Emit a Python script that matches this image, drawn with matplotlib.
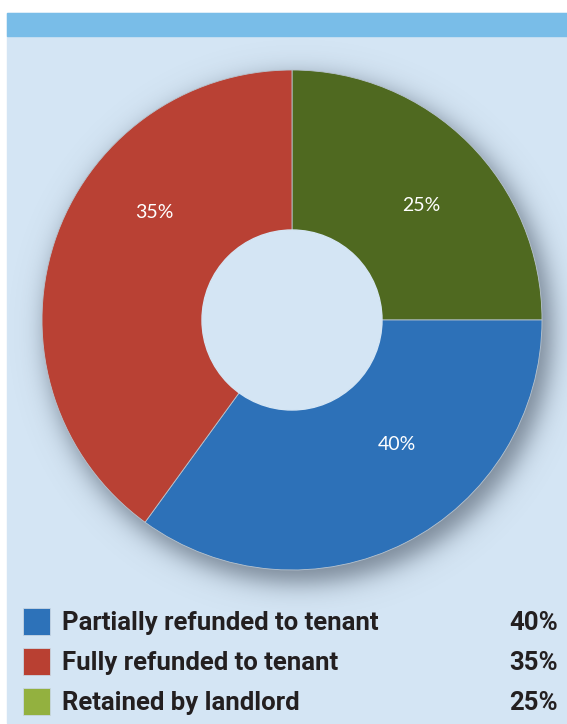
import numpy as np
import matplotlib
matplotlib.use('Agg')
import matplotlib.pyplot as plt
from matplotlib.patches import Rectangle, Circle

# data (wedge sizes as drawn, labels as printed)
categories = ['Partially refunded to tenant', 'Fully refunded to tenant', 'Retained by landlord']
printed_pct = ['40%', '35%', '25%']
drawn_share = [35, 40, 25]          # blue, red, green as they appear in the ring
pie_colors = ['#2d71b8', '#b94134', '#4f6920']
legend_colors = ['#2d72b9', '#b94032', '#93b13f']

W, H = 567, 724
PANEL = '#d4e5f4'
BAND = '#79bde8'
CX, CY, R = 292, 320, 250

fig = plt.figure(figsize=(W / 100, H / 100), dpi=100)
fig.patch.set_facecolor('white')

# background axes in pixel coords
bg = fig.add_axes([0, 0, 1, 1])
bg.set_xlim(0, W)
bg.set_ylim(H, 0)
bg.axis('off')
bg.add_patch(Rectangle((7, 13), W - 7, H - 14, color=PANEL, zorder=0))
bg.add_patch(Rectangle((7, 13), W - 7, 23, color=BAND, zorder=1))

# soft drop shadow behind the ring
yy, xx = np.mgrid[0:H, 0:W] + 0.5
dist = np.hypot(xx - (CX + 7), yy - (CY + 10))
alpha = 0.6 / (1 + np.exp((dist - (R + 3)) / 7.5))
shadow = np.zeros((H, W, 4))
shadow[..., 0] = 0.24
shadow[..., 1] = 0.29
shadow[..., 2] = 0.35
shadow[..., 3] = alpha
bg.imshow(shadow, extent=(0, W, H, 0), zorder=2, interpolation='bilinear')
bg.set_xlim(0, W)
bg.set_ylim(H, 0)

# pie axes, 1 data unit = R pixels
ax = fig.add_axes([(CX - R) / W, (H - CY - R) / H, 2 * R / W, 2 * R / H])
# green first, then blue, then red, clockwise from the top
order = [2, 0, 1]
ax.pie([drawn_share[i] for i in order], colors=[pie_colors[i] for i in order],
       startangle=90, counterclock=False, radius=1, center=(0, 0), frame=False,
       wedgeprops=dict(edgecolor='#b8c4cf', linewidth=0.6))
ax.set_xlim(-1, 1)
ax.set_ylim(-1, 1)
ax.axis('off')
ax.add_patch(Circle((0, 0), 0.36, color=PANEL, zorder=5))

# in-ring labels (angle in degrees, radius fraction)
label_pos = {0: (-50, 0.65), 1: (142, 0.70), 2: (41.7, 0.69)}
for i, (ang, rr) in label_pos.items():
    t = np.deg2rad(ang)
    ax.text(rr * np.cos(t), rr * np.sin(t), printed_pct[i], color='white',
            fontsize=14, family='Lato', fontweight='normal', ha='center', va='center', zorder=6)

# legend (baselines in pixels)
rows_base = [630, 670, 710]
for i, yb in enumerate(rows_base):
    bg.add_patch(Rectangle((23, yb - 22), 27, 27, facecolor=legend_colors[i],
                           edgecolor='#c8d6e2', linewidth=0.6, zorder=3))
    bg.text(62, yb, categories[i], fontsize=18.5, fontweight='bold', color='#231f20',
            family='Roboto', ha='left', va='baseline', zorder=4)
    bg.text(558, yb, printed_pct[i], fontsize=18.5, fontweight='bold', color='#231f20',
            family='Roboto', ha='right', va='baseline', zorder=4)

fig.savefig('out.png', dpi=100, facecolor='white')
